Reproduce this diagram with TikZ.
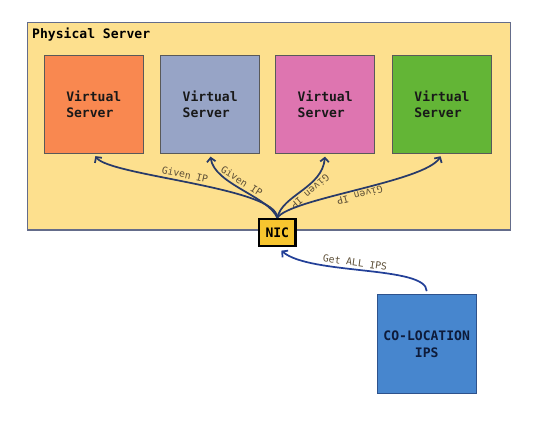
\documentclass[tikz,border=0pt]{standalone}
\usepackage{fontspec}
\setmonofont{DejaVu Sans Mono}
\usepackage{tikz}
\usetikzlibrary{arrows.meta}
\definecolor{AmarilloFondo}{RGB}{253,224,142}
\definecolor{GrisBorde}{RGB}{100,108,138}
\definecolor{NaranjaVM}{RGB}{249,136,80}
\definecolor{AzulGrisVM}{RGB}{151,164,198}
\definecolor{RosaVM}{RGB}{222,117,176}
\definecolor{VerdeVM}{RGB}{99,181,54}
\definecolor{AmarilloNIC}{RGB}{247,197,47}
\definecolor{AzulColo}{RGB}{71,134,206}
\definecolor{AzulColoBorde}{RGB}{46,82,140}
\definecolor{AzulFlecha}{RGB}{40,58,105}
\definecolor{AzulEnlace}{RGB}{35,64,152}
\definecolor{TextoEtiqueta}{RGB}{92,78,54}

\begin{document}
\begin{tikzpicture}[x=0.75pt,y=0.75pt,>={Straight Barb[length=3pt,width=6.5pt]},
  caja/.style={draw,minimum width=74.3pt,minimum height=74pt,inner sep=0pt,
    font=\ttfamily\bfseries\fontsize{9.8}{12.5}\selectfont},
  vm/.style={caja,draw=black!65,align=left,text=black!90},
  flecha/.style={<-,line width=1.3pt,AzulFlecha,shorten <=2pt},
  etiqueta/.style={sloped,allow upside down,above,inner sep=1.5pt,text=TextoEtiqueta,
    font=\ttfamily\fontsize{7.3}{9}\selectfont}]
  \useasboundingbox (0,0) rectangle (540,434);
  % servidor fisico
  \node[draw=GrisBorde,line width=1.1pt,fill=AmarilloFondo,minimum width=362.5pt,
    minimum height=155.5pt] (fisico) at (269,307.6) {};
  \node[anchor=base west,inner sep=0pt,font=\ttfamily\bfseries\fontsize{9.8}{12}\selectfont]
    (titulo) at ([xshift=4pt,yshift=-12.2pt]fisico.north west) {Physical Server};
  % servidores virtuales
  \node[vm,fill=NaranjaVM] (vm1) at (93.8,329.6) {Virtual\\Server};
  \node[vm,fill=AzulGrisVM] (vm2) at (210.2,329.6) {Virtual\\Server};
  \node[vm,fill=RosaVM] (vm3) at (325.2,329.6) {Virtual\\Server};
  \node[vm,fill=VerdeVM] (vm4) at (442,329.6) {Virtual\\Server};
  \node[draw=black,line width=1.8pt,fill=AmarilloNIC,minimum width=27.5pt,minimum height=20.2pt,
    inner sep=0pt,font=\ttfamily\bfseries\fontsize{9.8}{12}\selectfont] (nic) at (277.3,201.5) {NIC};
  \node[caja,draw=AzulColoBorde,line width=0.8pt,fill=AzulColo,align=center,
    minimum height=74.5pt,text={rgb,255:red,14;green,27;blue,58}] (colo) at (426.7,90) {CO-LOCATION\\IPS};
  % flechas
  \draw[flecha] (vm1.south) .. controls +(16,-22) and +(0,30.5) .. (nic.north)
    node[etiqueta,pos=0.47] {Given IP};
  \draw[flecha] (vm2.south) .. controls +(4,-30) and +(-9,21.5) .. (nic.north)
    node[etiqueta,pos=0.46] {Given IP};
  \draw[flecha] (vm3.south) .. controls +(-3,-34) and +(5,23) .. (nic.north)
    node[etiqueta,pos=0.44] {Given IP};
  \draw[flecha] (vm4.south) .. controls +(-17,-28) and +(13,19.5) .. (nic.north)
    node[etiqueta,pos=0.5] {Given IP};
  \draw[<-,line width=1.3pt,AzulEnlace,shorten <=4pt,shorten >=2pt] (nic.south)
    .. controls +(32.7,-28) and +(0,28.3) .. (colo.north)
    node[etiqueta,pos=0.45] {Get ALL IPS};
\end{tikzpicture}
\end{document}
